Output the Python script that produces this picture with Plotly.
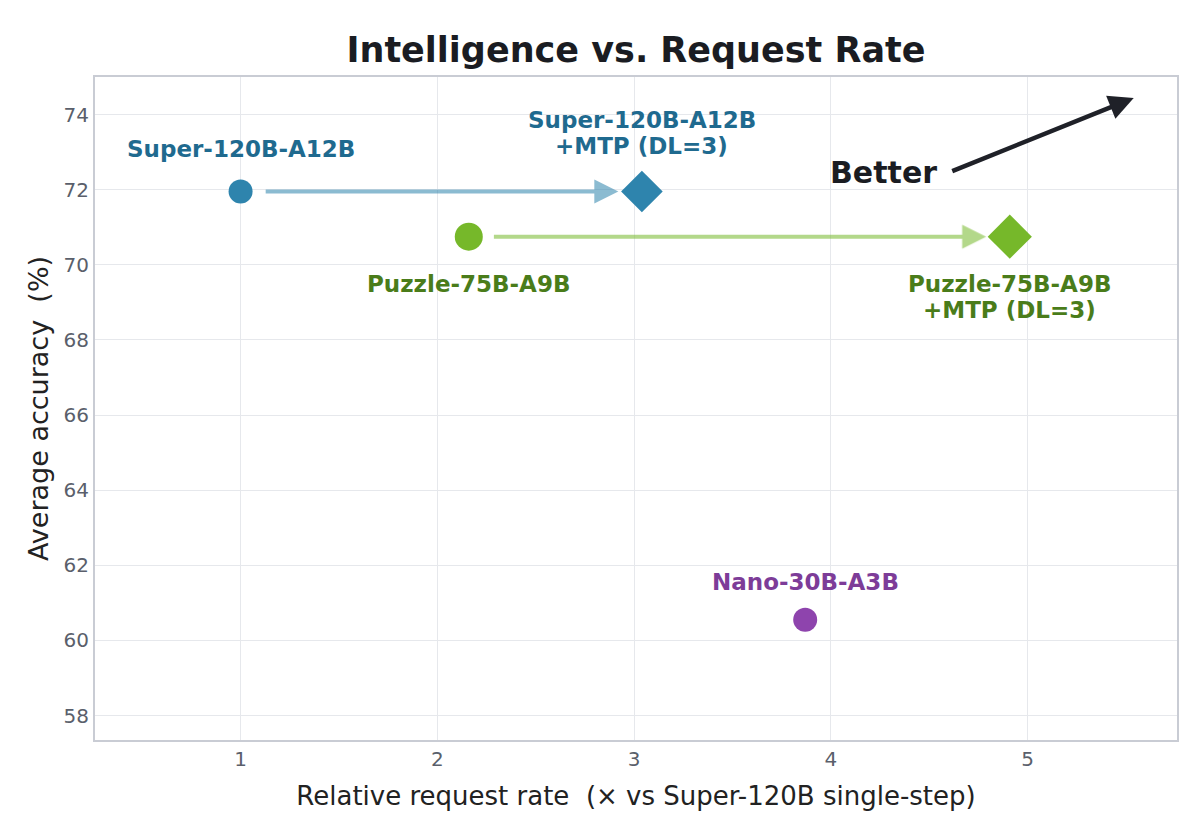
import plotly.graph_objects as go

# ---- data ----
models = ["Super-120B-A12B", "Super-120B-A12B<br>+MTP (DL=3)", "Puzzle-75B-A9B",
          "Puzzle-75B-A9B<br>+MTP (DL=3)", "Nano-30B-A3B"]
rate = [1.0, 3.04, 2.16, 4.91, 3.87]
accuracy = [71.95, 71.95, 70.75, 70.75, 60.55]
symbols = ["circle", "diamond", "circle", "diamond", "circle"]
sizes = [24, 32, 28, 34, 24]
marker_colors = ["#2e84ad", "#2e84ad", "#76b82a", "#76b82a", "#8e44ad"]
label_colors = ["#1f6a8f", "#1f6a8f", "#4a7c1a", "#4a7c1a", "#7d3c98"]
label_shift = [43, 59, -47, -60, 38]
arrow_pairs = [(0, 1, "rgba(46,132,173,0.55)"), (2, 3, "rgba(118,184,42,0.55)")]
x_ticks = [1, 2, 3, 4, 5]
y_ticks = [58, 60, 62, 64, 66, 68, 70, 72, 74]

FONT = "DejaVu Sans"
NB = "\u00a0"
LINE_H = 26

fig = go.Figure()
fig.add_trace(go.Scatter(
    x=rate, y=accuracy, mode="markers",
    marker=dict(symbol=symbols, size=sizes, color=marker_colors, opacity=1,
                line=dict(width=0)),
    hoverinfo="skip", showlegend=False))

annotations = []
# connector arrows
gap = 0.12
for a, b, col in arrow_pairs:
    annotations.append(dict(
        x=rate[b] - gap, y=accuracy[b], ax=rate[a] + gap, ay=accuracy[a],
        xref="x", yref="y", axref="x", ayref="y", text="",
        showarrow=True, arrowhead=2, arrowsize=1.2, arrowwidth=4, arrowcolor=col))
# labels (one annotation per line for tighter line spacing)
for m, x, y, c, s in zip(models, rate, accuracy, label_colors, label_shift):
    lines = m.split("<br>")
    n = len(lines)
    for i, ln in enumerate(lines):
        off = s + ((n - 1) / 2 - i) * LINE_H
        annotations.append(dict(
            x=x, y=y, xref="x", yref="y", text="<b>" + ln + "</b>", showarrow=False,
            yshift=off, font=dict(family=FONT, size=23, color=c), align="center"))
# Better arrow
annotations.append(dict(
    x=5.54, y=74.44, ax=4.61, ay=72.48, xref="x", yref="y", axref="x", ayref="y",
    text="", showarrow=True, arrowhead=2, arrowsize=1.1, arrowwidth=4.5,
    arrowcolor="#1f2128"))
annotations.append(dict(
    x=4.55, y=72.47, xref="x", yref="y", text="<b>Better</b>", showarrow=False,
    xanchor="right", font=dict(family=FONT, size=30, color="#1a1c22")))

fig.update_layout(
    width=1200, height=826,
    margin=dict(l=95, r=23, t=77, b=86),
    paper_bgcolor="white", plot_bgcolor="white",
    font=dict(family=FONT, color="#222"),
    title=dict(text="<b>Intelligence vs. Request Rate</b>", x=0.5, xref="paper",
               xanchor="center", y=0.94, yanchor="middle",
               font=dict(family=FONT, size=35, color="#1a1c22")),
    annotations=annotations,
    xaxis=dict(range=[0.26, 5.76], tickvals=x_ticks, showgrid=True,
               gridcolor="#e6e8ec", gridwidth=1, zeroline=False,
               showline=True, linecolor="#c9ccd4", linewidth=2, mirror=True,
               ticks="", tickfont=dict(size=20, color="#5a5f6b"),
               title=dict(text="Relative request rate" + NB + " (× vs Super-120B single-step)",
                          font=dict(size=26, color="#222"), standoff=17)),
    yaxis=dict(range=[57.35, 75.0], tickvals=y_ticks, showgrid=True,
               gridcolor="#e6e8ec", gridwidth=1, zeroline=False,
               showline=True, linecolor="#c9ccd4", linewidth=2, mirror=True,
               ticks="", tickfont=dict(size=20, color="#5a5f6b"),
               title=dict(text="Average accuracy" + NB + " (%)",
                          font=dict(size=27, color="#222"), standoff=7)),
)

fig.write_html("out.html")
